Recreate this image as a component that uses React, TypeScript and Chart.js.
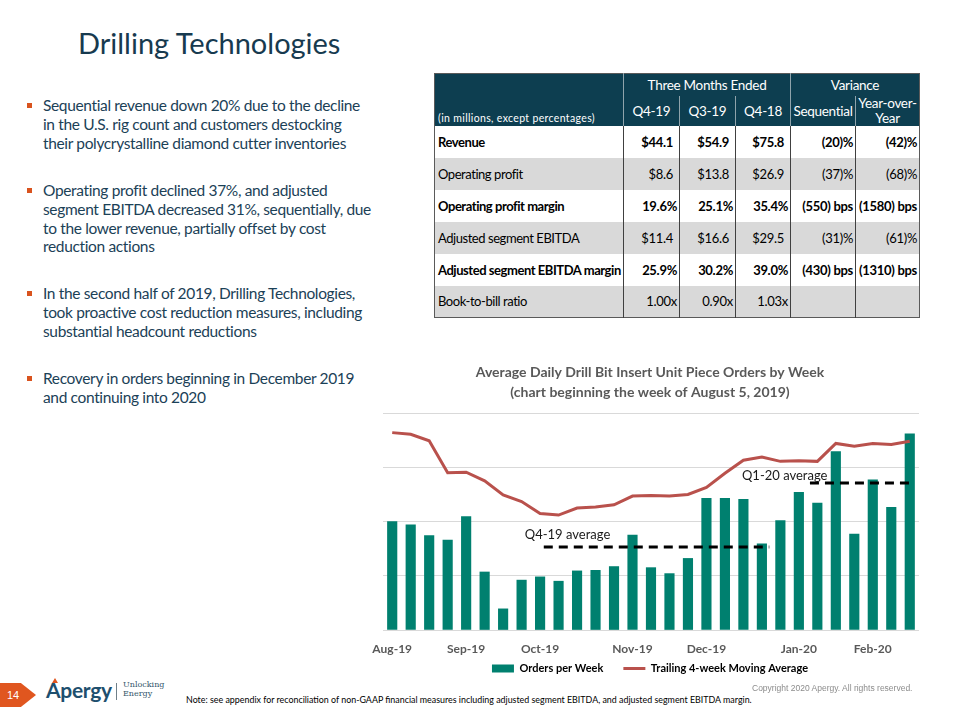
import React, { useEffect, useRef } from 'react';
import { Chart, registerables } from 'chart.js';

Chart.register(...registerables);

// ---------- chart data ----------
const weekLabels = [
  'Aug-19', '', '', '', 'Sep-19', '', '', '', 'Oct-19', '', '', '', '',
  'Nov-19', '', '', '', 'Dec-19', '', '', '', '', 'Jan-20', '', '', '',
  'Feb-20', '', '',
];
const ordersPerWeek = [
  2.0, 1.94, 1.74, 1.66, 2.09, 1.07, 0.39, 0.92, 0.98, 0.9, 1.09, 1.1, 1.17,
  1.75, 1.15, 1.04, 1.32, 2.43, 2.43, 2.41, 1.59, 2.02, 2.54, 2.34, 3.29,
  1.77, 2.77, 2.26, 3.62,
];
const movingAverage = [
  3.64, 3.61, 3.49, 2.9, 2.91, 2.75, 2.49, 2.37, 2.15, 2.12, 2.25, 2.27, 2.31,
  2.47, 2.48, 2.47, 2.5, 2.63, 2.89, 3.13, 3.19, 3.11, 3.12, 3.11, 3.44, 3.39,
  3.44, 3.42, 3.48,
];
const seriesNames = ['Orders per Week', 'Trailing 4-week Moving Average'];
const avgLabels = ['Q4-19 average', 'Q1-20 average'];
const avgValues = [1.53, 2.71];
const avgStartWeek = [8.2, 22.6];
const avgEndWeek = [20.4, 28.0];
const chartTitleLines = [
  'Average Daily Drill Bit Insert Unit Piece Orders by Week',
  '(chart beginning the week of August 5, 2019)',
];
const yMax = 4;
const yStep = 1;

// ---------- table data ----------
const tableRowLabels = [
  'Revenue',
  'Operating profit',
  'Operating profit margin',
  'Adjusted segment EBITDA',
  'Adjusted segment EBITDA margin',
  'Book-to-bill ratio',
];
const q419Values = ['$44.1', '$8.6', '19.6%', '$11.4', '25.9%', '1.00x'];
const q319Values = ['$54.9', '$13.8', '25.1%', '$16.6', '30.2%', '0.90x'];
const q418Values = ['$75.8', '$26.9', '35.4%', '$29.5', '39.0%', '1.03x'];
const seqValues = ['(20)%', '(37)%', '(550) bps', '(31)%', '(430) bps', ''];
const yoyValues = ['(42)%', '(68)%', '(1580) bps', '(61)%', '(1310) bps', ''];
const boldRows = [true, false, true, false, true, false];

// ---------- slide text ----------
const slideTitle = 'Drilling Technologies';
const bullets = [
  [
    'Sequential revenue down 20% due to the decline',
    'in the U.S. rig count and customers destocking',
    'their polycrystalline diamond cutter inventories',
  ],
  [
    'Operating profit declined 37%, and adjusted',
    'segment EBITDA decreased 31%, sequentially, due',
    'to the lower revenue, partially offset by cost',
    'reduction actions',
  ],
  [
    'In the second half of 2019, Drilling Technologies,',
    'took proactive cost reduction measures, including',
    'substantial headcount reductions',
  ],
  ['Recovery in orders beginning in December 2019', 'and continuing into 2020'],
];
const noteText =
  'Note: see appendix for reconciliation of non-GAAP financial measures including adjusted segment EBITDA, and adjusted segment EBITDA margin.';
const copyrightText = 'Copyright  2020 Apergy. All rights reserved.';
const pageNumber = '14';

// ---------- styles ----------
const BAR = '#00806f';
const LINE = '#b9514c';
const GREY_TXT = '#595959';
const FONT = 'Lato, "Open Sans", sans-serif';
const labelDx = [-19, -68];
const labelDy = [-12, -7];
const bulletTops = [96, 181, 284, 369];
const legendGap = '      ';

function DrillChart() {
  const ref = useRef<HTMLCanvasElement>(null);
  useEffect(() => {
    if (!ref.current) return;
    const annot = {
      id: 'avgLabels',
      afterDatasetsDraw(chart: any) {
        const ctx = chart.ctx;
        const xs = chart.scales.x;
        const ys = chart.scales.y;
        ctx.save();
        ctx.font = '13px Lato';
        ctx.fillStyle = '#1a1a1a';
        ctx.textBaseline = 'middle';
        ctx.textAlign = 'left';
        avgLabels.forEach((t, i) => {
          ctx.fillText(
            t,
            xs.getPixelForValue(avgStartWeek[i]) + labelDx[i],
            ys.getPixelForValue(avgValues[i]) + labelDy[i]
          );
        });
        ctx.restore();
      },
    };
    const chart = new Chart(ref.current, {
      type: 'bar',
      data: {
        datasets: [
          {
            type: 'bar',
            label: seriesNames[0],
            data: ordersPerWeek.map((v, i) => ({ x: i, y: v })),
            backgroundColor: BAR,
            barThickness: 9.5,
            order: 2,
          } as any,
          {
            type: 'line',
            label: seriesNames[1],
            data: movingAverage.map((v, i) => ({ x: i, y: v })),
            borderColor: LINE,
            borderWidth: 3,
            pointRadius: 0,
            tension: 0,
            order: 1,
          },
          ...avgLabels.map((l, i) => ({
            type: 'line',
            label: l,
            data: [
              { x: avgStartWeek[i], y: avgValues[i] },
              { x: avgEndWeek[i], y: avgValues[i] },
            ],
            borderColor: '#000000',
            borderWidth: 3,
            borderDash: [9, 6],
            pointRadius: 0,
            order: 0,
          })),
        ],
      },
      options: {
        animation: false,
        responsive: false,
        maintainAspectRatio: false,
        layout: { padding: { left: 21, right: 13, top: 0, bottom: 0 } },
        plugins: {
          tooltip: { enabled: false },
          title: {
            display: true,
            text: chartTitleLines,
            color: GREY_TXT,
            font: { family: 'Lato', size: 14, weight: 'bold', lineHeight: 1.45 },
            padding: { top: 10, bottom: 10.5 },
          },
          legend: {
            position: 'bottom',
            labels: {
              usePointStyle: true,
              pointStyleWidth: 22,
              boxHeight: 8,
              padding: 4,
              color: GREY_TXT,
              font: { family: 'Lato', size: 11, weight: 'bold' },
              generateLabels: () => [
                {
                  text: seriesNames[0] + legendGap,
                  fillStyle: BAR,
                  strokeStyle: BAR,
                  lineWidth: 0,
                  pointStyle: 'rect',
                  hidden: false,
                  datasetIndex: 0,
                },
                {
                  text: seriesNames[1],
                  fillStyle: LINE,
                  strokeStyle: LINE,
                  lineWidth: 3,
                  pointStyle: 'line',
                  hidden: false,
                  datasetIndex: 1,
                },
              ],
            },
          },
        },
        scales: {
          x: {
            type: 'linear',
            min: -0.5,
            max: weekLabels.length - 0.5,
            offset: false,
            grid: { display: false, drawTicks: false },
            border: { display: false },
            afterBuildTicks: (scale: any) => {
              scale.ticks = weekLabels.map((_, i) => ({ value: i }));
            },
            afterFit: (scale: any) => {
              scale.height = 29;
            },
            ticks: {
              autoSkip: false,
              maxRotation: 0,
              minRotation: 0,
              padding: 12,
              color: GREY_TXT,
              font: { family: 'Lato', size: 12, weight: 'bold' },
              callback: (v: any) => {
                const s = weekLabels[Math.round(Number(v))];
                return s === undefined ? '' : s;
              },
            },
          },
          y: {
            min: 0,
            max: yMax,
            ticks: { stepSize: yStep, display: false },
            grid: { color: '#d9d9d9', drawTicks: false },
            border: { display: false },
          },
        },
      } as any,
      plugins: [annot],
    });
    return () => chart.destroy();
  }, []);
  return (
    <canvas
      ref={ref}
      width={572}
      height={332}
      style={{ position: 'absolute', left: 360, top: 352, width: 572, height: 332 }}
    />
  );
}

function DataTable() {
  const colW = [189, 56, 56, 55, 65, 64];
  const hdrBg = '#0d3e50';
  const hdrLine = '1px solid #8fa3ab';
  const bodyLine = '1px solid #404040';
  const cellBase: React.CSSProperties = {
    padding: 0,
    fontFamily: FONT,
    fontSize: 13,
    letterSpacing: -0.3,
    whiteSpace: 'nowrap',
  };
  const hdr: React.CSSProperties = {
    ...cellBase,
    background: hdrBg,
    color: '#ffffff',
    textAlign: 'center',
    fontSize: 13.5,
  };
  const cols = [q419Values, q319Values, q418Values, seqValues, yoyValues];
  return (
    <table
      style={{
        position: 'absolute',
        left: 434,
        top: 73,
        borderCollapse: 'collapse',
        tableLayout: 'fixed',
        width: colW.reduce((a, b) => a + b, 0),
        border: '1.5px solid #5a5a5a',
      }}
    >
      <colgroup>
        {colW.map((w, i) => (
          <col key={i} style={{ width: w }} />
        ))}
      </colgroup>
      <tbody>
        <tr style={{ height: 22 }}>
          <td
            rowSpan={2}
            style={{
              ...hdr,
              textAlign: 'left',
              verticalAlign: 'bottom',
              fontSize: 10.5,
              letterSpacing: 0.35,
              paddingLeft: 3,
              paddingBottom: 2,
              borderRight: hdrLine,
            }}
          >
            (in millions, except percentages)
          </td>
          <td colSpan={3} style={{ ...hdr, borderRight: hdrLine }}>
            Three Months Ended
          </td>
          <td colSpan={2} style={hdr}>
            Variance
          </td>
        </tr>
        <tr style={{ height: 30 }}>
          <td style={{ ...hdr, borderRight: hdrLine }}>Q4-19</td>
          <td style={{ ...hdr, borderRight: hdrLine }}>Q3-19</td>
          <td style={{ ...hdr, borderRight: hdrLine }}>Q4-18</td>
          <td style={{ ...hdr, borderRight: hdrLine }}>Sequential</td>
          <td style={{ ...hdr, lineHeight: '15px' }}>
            Year-over-
            <br />
            Year
          </td>
        </tr>
        {tableRowLabels.map((lab, r) => {
          const bg = r % 2 === 0 ? '#ffffff' : '#d9d9d9';
          const fw = boldRows[r] ? 700 : 400;
          return (
            <tr key={r} style={{ height: 32, background: bg }}>
              <td
                style={{
                  ...cellBase,
                  fontWeight: fw,
                  paddingLeft: 3,
                  letterSpacing: -0.45,
                  borderRight: bodyLine,
                  color: '#000',
                }}
              >
                {lab}
              </td>
              {cols.map((c, ci) => {
                const v = c[r];
                const pr = v.startsWith('$') ? 6 : 2;
                return (
                  <td
                    key={ci}
                    style={{
                      ...cellBase,
                      fontWeight: fw,
                      textAlign: 'right',
                      paddingRight: pr,
                      borderRight: ci < 4 ? bodyLine : undefined,
                      color: '#000',
                    }}
                  >
                    {v}
                  </td>
                );
              })}
            </tr>
          );
        })}
      </tbody>
    </table>
  );
}

export default function App() {
  return (
    <div
      style={{
        position: 'absolute',
        left: 0,
        top: 0,
        width: 960,
        height: 720,
        background: '#ffffff',
        overflow: 'hidden',
        fontFamily: FONT,
      }}
    >
      <div
        style={{
          position: 'absolute',
          left: 78,
          top: 23,
          fontSize: 29,
          color: '#173a4f',
          lineHeight: '40px',
          whiteSpace: 'nowrap',
        }}
      >
        {slideTitle}
      </div>

      {bullets.map((lines, b) => (
        <div key={b} style={{ position: 'absolute', left: 0, top: bulletTops[b] }}>
          <div
            style={{
              position: 'absolute',
              left: 27,
              top: 7,
              width: 5,
              height: 5,
              background: '#d9531e',
            }}
          />
          {lines.map((ln, i) => (
            <div
              key={i}
              style={{
                position: 'absolute',
                left: 43,
                top: i * 18.8,
                fontSize: 15.5,
                lineHeight: '19px',
                color: '#1b4157',
                whiteSpace: 'nowrap',
                letterSpacing: -0.35,
              }}
            >
              {ln}
            </div>
          ))}
        </div>
      ))}

      <DataTable />
      <DrillChart />

      {/* footer */}
      <div
        style={{
          position: 'absolute',
          left: 0,
          top: 683,
          width: 36,
          height: 24,
          background: '#e0561f',
          clipPath: 'polygon(0 0, 58% 0, 100% 50%, 58% 100%, 0 100%)',
        }}
      />
      <div
        style={{
          position: 'absolute',
          left: 7,
          top: 688,
          fontSize: 11,
          lineHeight: '14px',
          color: '#ffffff',
          fontFamily: '"Liberation Sans", Arial, sans-serif',
        }}
      >
        {pageNumber}
      </div>
      <div
        style={{
          position: 'absolute',
          left: 46,
          top: 676,
          fontSize: 21,
          fontWeight: 700,
          lineHeight: '28px',
          color: '#1e4f6e',
          letterSpacing: -0.3,
        }}
      >
        Apergy
      </div>
      <div
        style={{
          position: 'absolute',
          left: 52,
          top: 678,
          width: 0,
          height: 0,
          borderLeft: '3px solid transparent',
          borderRight: '3px solid transparent',
          borderBottom: '5px solid #e0561f',
        }}
      />
      <div
        style={{
          position: 'absolute',
          left: 116,
          top: 683,
          width: 1,
          height: 17,
          background: '#6f7f88',
        }}
      />
      <div
        style={{
          position: 'absolute',
          left: 123,
          top: 681,
          fontSize: 8,
          lineHeight: '8.5px',
          color: '#33566b',
          fontFamily: '"DejaVu Serif", serif',
        }}
      >
        Unlocking
        <br />
        Energy
      </div>
      <div
        style={{
          position: 'absolute',
          left: 186,
          top: 694,
          fontSize: 8.9,
          lineHeight: '12px',
          color: '#000000',
          whiteSpace: 'nowrap',
        }}
      >
        {noteText}
      </div>
      <div
        style={{
          position: 'absolute',
          left: 752,
          top: 683,
          fontSize: 8.5,
          lineHeight: '11px',
          color: '#8c8c8c',
          whiteSpace: 'nowrap',
          fontFamily: '"Liberation Sans", Arial, sans-serif',
        }}
      >
        {copyrightText}
      </div>
    </div>
  );
}
